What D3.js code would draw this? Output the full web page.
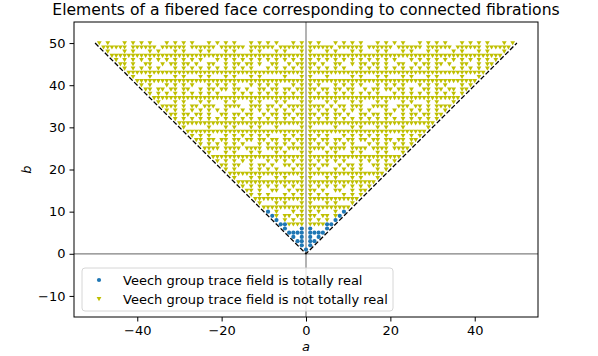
<!DOCTYPE html>
<html lang="en">
<head>
    <meta charset="UTF-8">
    <title>Elements of a fibered face corresponding to connected fibrations</title>
    <script src="https://d3js.org/d3.v7.min.js"></script>
    <style>
        body { margin: 0; background: #fff; }
        text { font-family: "DejaVu Sans", sans-serif; fill: #000; }
    </style>
</head>
<body>
    <div id="chart"></div>

    <script>
        // Points. The picture is symmetric about a = 0,
        // so each row gives a = 1 .. b-1 and is drawn at +a and -a.
        // "v" = triangle (not totally real), "." = no point.
        const yellowRows = [
            "",                                                // b = 1
            ".",
            "..",
            "...",
            "....",
            ".....",
            "vvvv..",
            "v.v.v..",
            "vv.vv.v.",
            "v.v...v..",                                       // b = 10
            "vvvvvvvvvv",
            "v...v.v...v",
            "vvvvvvvvvv" + "vv",
            "v.v.v...v.v.v",
            "vv.v..vv..v.vv",
            "v.v.v.v.v.v.v.v",
            "vvvvvvvvvv" + "vvvvvv",
            "v...v.v...v.v...v",
            "vvvvvvvvvv" + "vvvvvvvv",
            "v.v...v.v.v.v...v.v",                             // b = 20
            "vv.vv..v.vv.v..vv.vv",
            "v.v.v.v.v...v.v.v.v.v",
            "vvvvvvvvvv" + "vvvvvvvvvv" + "vv",
            "v...v.v...v.v...v.v...v",
            "vvvv.vvvv.vvvv.vvvv.vvvv",
            "v.v.v.v.v.v...v.v.v.v.v.v",
            "vv.vv.vv.vv.vv.vv.vv.vv.vv",
            "v.v.v...v.v.v.v.v.v...v.v.v",
            "vvvvvvvvvv" + "vvvvvvvvvv" + "vvvvvvvv",
            "v.....v...v.v...v.v...v.....v",                   // b = 30
            "vvvvvvvvvv" + "vvvvvvvvvv" + "vvvvvvvvvv",
            "v.v.v.v.v.v.v.v.v.v.v.v.v.v.v.v",
            "vv.vv.vv.v..vv.vv.vv..v.vv.vv.vv",
            "v.v.v.v.v.v.v.v...v.v.v.v.v.v.v.v",
            "vvvv.v.vv.vvv..vvvv..vvv.vv.v.vvvv",
            "v...v.v...v.v...v.v...v.v...v.v...v",
            "vvvvvvvvvv" + "vvvvvvvvvv" + "vvvvvvvvvv" + "vvvvvv",
            "v.v.v.v.v.v.v.v.v...v.v.v.v.v.v.v.v.v",
            "vv.vv.vv.vv..v.vv.vv.vv.v..vv.vv.vv.vv",
            "v.v...v.v.v.v...v.v.v.v...v.v.v.v...v.v",         // b = 40
            "vvvvvvvvvv" + "vvvvvvvvvv" + "vvvvvvvvvv" + "vvvvvvvvvv",
            "v...v.....v.v...v.v...v.v...v.v.....v...v",
            "vvvvvvvvvv" + "vvvvvvvvvv" + "vvvvvvvvvv" + "vvvvvvvvvv" + "vv",
            "v.v.v.v.v...v.v.v.v.v.v.v.v.v.v...v.v.v.v.v",
            "vv.v..vv..v.vv.vv.v..vv..v.vv.vv.v..vv..v.vv",
            "v.v.v.v.v.v.v.v.v.v.v...v.v.v.v.v.v.v.v.v.v.v",
            "vvvvvvvvvv" + "vvvvvvvvvv" + "vvvvvvvvvv" + "vvvvvvvvvv" + "vvvvvv",
            "v...v.v...v.v...v.v...v.v...v.v...v.v...v.v...v",
            "vvvvvv.vvvvvv.vvvvvv.vvvvvv.vvvvvv.vvvvvv.vvvvvv",
            "v.v...v.v.v.v...v.v.v.v...v.v.v.v...v.v.v.v...v.v" // b = 50
        ];

        // Blue circles (totally real), as [a, b]
        const bluePoints = [
            [0, 1],
            [-1, 2], [1, 2],
            [-2, 3], [-1, 3], [1, 3], [2, 3],
            [-3, 4], [-1, 4], [1, 4], [3, 4],
            [-4, 5], [-3, 5], [-2, 5], [-1, 5], [1, 5], [2, 5], [3, 5], [4, 5],
            [-5, 6], [-1, 6], [1, 6], [5, 6],
            [-6, 7], [-5, 7], [5, 7], [6, 7],
            [-7, 8], [7, 8],
            [-8, 9], [8, 9],
            [-9, 10], [9, 10]
        ];

        // Dashed boundary of the cone
        const boundary = [[-50, 50], [0, 0], [50, 50]];

        const xTicks = [-40, -20, 0, 20, 40];
        const yTicks = [-10, 0, 10, 20, 30, 40, 50];
        const legendLabels = [
            "Veech group trace field is totally real",
            "Veech group trace field is not totally real"
        ];

        const blue = "#1f77b4";
        const olive = "#bfbf00";

        const W = 598, H = 356;
        const margin = { top: 22, right: 60, bottom: 39, left: 74 };

        const svg = d3.select("#chart").append("svg")
            .attr("width", W)
            .attr("height", H);

        const x = d3.scaleLinear().domain([-55, 55]).range([margin.left, W - margin.right]);
        const y = d3.scaleLinear().domain([-15, 55]).range([H - margin.bottom, margin.top]);

        // Triangle pointing down
        const tri = "M0,2.3L-2.4,-1.9L2.4,-1.9Z";

        // Expand the rows into [a, b] pairs
        const yellowPoints = [];
        yellowRows.forEach((row, i) => {
            const b = i + 1;
            row.split("").forEach((c, j) => {
                if (c === "v") {
                    yellowPoints.push([j + 1, b]);
                    yellowPoints.push([-(j + 1), b]);
                }
            });
        });

        // Gray axis lines
        svg.append("line")
            .attr("x1", x(0)).attr("x2", x(0))
            .attr("y1", y(55)).attr("y2", y(-15))
            .attr("stroke", "#808080").attr("stroke-width", 1.2);
        svg.append("line")
            .attr("x1", x(-55)).attr("x2", x(55))
            .attr("y1", y(0)).attr("y2", y(0))
            .attr("stroke", "#808080").attr("stroke-width", 1.2);

        // Points
        svg.append("g").selectAll("circle")
            .data(bluePoints)
            .join("circle")
            .attr("cx", d => x(d[0]))
            .attr("cy", d => y(d[1]))
            .attr("r", 2.1)
            .attr("fill", blue);

        svg.append("g").selectAll("path")
            .data(yellowPoints)
            .join("path")
            .attr("d", tri)
            .attr("transform", d => `translate(${x(d[0])},${y(d[1])})`)
            .attr("fill", olive);

        // Dashed cone
        svg.append("path")
            .datum(boundary)
            .attr("d", d3.line().x(d => x(d[0])).y(d => y(d[1])))
            .attr("fill", "none")
            .attr("stroke", "#000")
            .attr("stroke-width", 1.3)
            .attr("stroke-dasharray", "4.8,2.1");

        // Axes
        const xAxis = svg.append("g")
            .attr("transform", `translate(0,${H - margin.bottom})`)
            .call(d3.axisBottom(x).tickValues(xTicks).tickSize(4.5).tickPadding(4));
        const yAxis = svg.append("g")
            .attr("transform", `translate(${margin.left},0)`)
            .call(d3.axisLeft(y).tickValues(yTicks).tickSize(4.5).tickPadding(4));

        [xAxis, yAxis].forEach(g => {
            g.select(".domain").remove();
            g.selectAll("line").attr("stroke", "#000").attr("stroke-width", 1);
            g.selectAll("text").attr("font-size", 13).attr("font-family", "DejaVu Sans").attr("fill", "#000");
        });

        // Frame
        svg.append("rect")
            .attr("x", margin.left).attr("y", margin.top)
            .attr("width", W - margin.left - margin.right)
            .attr("height", H - margin.top - margin.bottom)
            .attr("fill", "none").attr("stroke", "#000").attr("stroke-width", 1);

        // Title and labels
        svg.append("text")
            .attr("x", (margin.left + W - margin.right) / 2).attr("y", 15)
            .attr("text-anchor", "middle").attr("font-size", 15.6)
            .text("Elements of a fibered face corresponding to connected fibrations");

        svg.append("text")
            .attr("x", x(0)).attr("y", 351)
            .attr("text-anchor", "middle").attr("font-size", 13)
            .attr("font-style", "italic")
            .text("a");

        svg.append("text")
            .attr("transform", `translate(31,${(margin.top + H - margin.bottom) / 2}) rotate(-90)`)
            .attr("text-anchor", "middle").attr("font-size", 13)
            .attr("font-style", "italic")
            .text("b");

        // Legend
        const legend = svg.append("g");
        legend.append("rect")
            .attr("x", 82).attr("y", 268)
            .attr("width", 311).attr("height", 43)
            .attr("rx", 3)
            .attr("fill", "#fff").attr("fill-opacity", 0.8)
            .attr("stroke", "#d6d6d6");

        legend.append("circle")
            .attr("cx", 99).attr("cy", 280).attr("r", 2.1).attr("fill", blue);
        legend.append("path")
            .attr("d", tri).attr("transform", "translate(99,299)").attr("fill", olive);

        legend.selectAll("text.lab")
            .data(legendLabels)
            .join("text")
            .attr("class", "lab")
            .attr("x", 123)
            .attr("y", (d, i) => 284.5 + i * 19)
            .attr("font-size", 13)
            .text(d => d);
    </script>
</body>
</html>
